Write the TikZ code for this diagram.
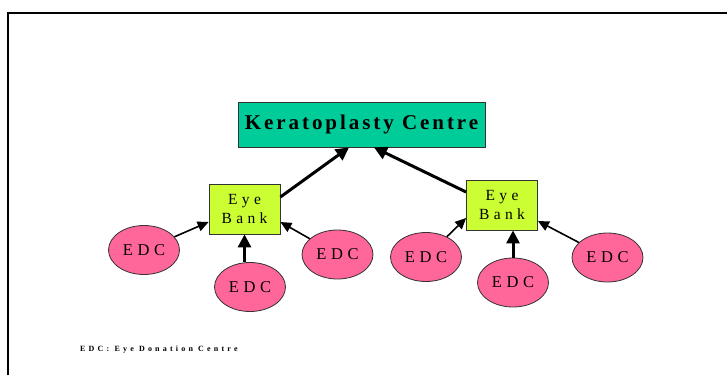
\documentclass[tikz,border=0pt]{standalone}
\usepackage{fontspec}
\setmainfont{Liberation Serif}
\usetikzlibrary{arrows.meta,shapes.geometric,calc}
\definecolor{kcteal}{HTML}{00CC99}
\definecolor{eblime}{HTML}{CCFF33}
\definecolor{edcpink}{HTML}{FF6699}
\definecolor{edgegray}{HTML}{333333}
\tikzset{
  kcbox/.style={draw=edgegray, line width=0.8pt, fill=kcteal, minimum width=247pt, minimum height=45pt, inner sep=0pt,
    font=\fontsize{21}{24}\selectfont\bfseries\addfontfeatures{LetterSpace=14}},
  ebbox/.style={draw=edgegray, line width=0.8pt, fill=eblime, minimum width=71pt, minimum height=50pt, inner sep=0pt, align=center,
    font=\fontsize{15.5}{18.6}\selectfont\addfontfeatures{LetterSpace=28}},
  edcnode/.style={ellipse, draw=edgegray, line width=0.8pt, fill=edcpink, minimum width=71pt, minimum height=49pt, inner sep=0pt,
    font=\fontsize{16.5}{19}\selectfont\addfontfeatures{LetterSpace=28}},
  bigarrow/.style={line width=3pt, -{Triangle[length=13pt,width=13pt]}},
  smallarrow/.style={line width=1.6pt, -{Triangle[length=11pt,width=10pt]}},
  framerule/.style={line width=2pt},
  footnote/.style={font=\fontsize{8}{9}\selectfont\bfseries\addfontfeatures{LetterSpace=40}, anchor=west, inner sep=0pt}
}
\begin{document}
\begin{tikzpicture}[x=1pt,y=-1pt]
\useasboundingbox (0,0) rectangle (727,375);
\coordinate (frameA) at (8,375);
\coordinate (frameB) at (8,12.5);
\coordinate (frameC) at (727,12.5);
\draw[framerule] (frameA) -- (frameB) -- (frameC);

\node[kcbox] (kc) at (361.5,124.5) {Keratoplasty Centre};
\node[ebbox] (ebL) at (244.5,209) {Eye\\Bank};
\node[ebbox] (ebR) at (502,205) {Eye\\Bank};

\node[edcnode] (l1) at (144,250) {EDC};
\node[edcnode] (l2) at (250,287) {EDC};
\node[edcnode] (l3) at (337.5,254.5) {EDC};
\node[edcnode] (r1) at (426,257) {EDC};
\node[edcnode] (r2) at (513,282.5) {EDC};
\node[edcnode] (r3) at (607.5,257.5) {EDC};

\draw[bigarrow] ($(ebL.east)+(0,-12)$) -- ($(kc.south)+(-12.5,0)$);
\draw[bigarrow] ($(ebR.west)+(0,-13)$) -- ($(kc.south)+(12.5,0)$);

\draw[smallarrow] (l1) -- ($(ebL.west)+(0,13)$);
\draw[smallarrow] (l3) -- ($(ebL.east)+(0,13)$);
\draw[bigarrow] (l2.north -| ebL.south) -- (ebL.south);

\draw[smallarrow] (r1) -- ($(ebR.west)+(0,13)$);
\draw[smallarrow] (r3) -- ($(ebR.east)+(0,16)$);
\draw[bigarrow] (r2.north) -- (r2.north |- ebR.south);

\node[footnote] (legend) at (80,350) {EDC: Eye Donation Centre};
\end{tikzpicture}
\end{document}
